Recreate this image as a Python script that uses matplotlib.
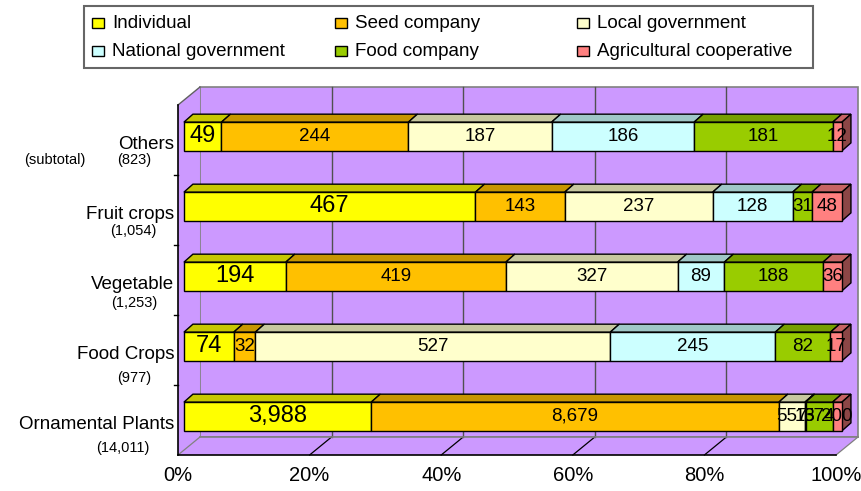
import numpy as np
import matplotlib.pyplot as plt
from matplotlib.patches import Polygon, Rectangle
from matplotlib.colors import to_rgb

# data (bottom to top, as drawn)
categories = ['Ornamental Plants', 'Food Crops', 'Vegetable', 'Fruit crops', 'Others']
subtotals = ['(14,011)', '(977)', '(1,253)', '(1,054)', '(823)']
series = ['Individual', 'Seed company', 'Local government',
          'National government', 'Food company', 'Agricultural cooperative']
colors = ['#FFFF00', '#FFC000', '#FFFFCC', '#CCFFFF', '#99CC00', '#FF8080']

individual = [3988, 74, 194, 467, 49]
seed_company = [8679, 32, 419, 143, 244]
local_gov = [557, 527, 327, 237, 187]
national_gov = [13, 245, 89, 128, 186]
food_company = [574, 82, 188, 31, 181]
agri_coop = [200, 17, 36, 48, 12]
xticks = [0, 20, 40, 60, 80, 100]

values = np.array([individual, seed_company, local_gov, national_gov, food_company, agri_coop], dtype=float)
shares = values / values.sum(axis=0) * 100

# 3d look
wall_dx, wall_dy = 3.34, 0.257     # depth of the box
bar_x0, bar_y0 = 0.9, 0.05         # front plane of the bars
bar_dx, bar_dy = 1.37, 0.114       # bar depth
bar_h = 0.41
wall = '#CC99FF'

def shade(c, f):
    r, g, b = to_rgb(c)
    return (r * f, g * f, b * f)

plt.rcParams['font.family'] = ['Liberation Sans', 'DejaVu Sans']

fig = plt.figure(figsize=(8.62, 4.91), dpi=100)
ax = fig.add_axes([0, 0, 1, 1])
ax.set_xlim(-27.05, 103.95)
ax.set_ylim(-1.0143, 6.0)
ax.axis('off')

bot, top = -0.5, len(categories) - 0.5

# back wall, floor, side wall
ax.add_patch(Rectangle((wall_dx, bot + wall_dy), 100, top - bot, facecolor=wall,
                       edgecolor='#808080', lw=1.2, zorder=1))
ax.add_patch(Polygon([(0, bot), (100, bot), (100 + wall_dx, bot + wall_dy), (wall_dx, bot + wall_dy)],
                     closed=True, facecolor=wall, edgecolor='none', zorder=1))
ax.add_patch(Polygon([(0, bot), (wall_dx, bot + wall_dy), (wall_dx, top + wall_dy), (0, top)],
                     closed=True, facecolor=wall, edgecolor='none', zorder=1))
for t in xticks[1:-1]:
    ax.plot([t + wall_dx, t + wall_dx], [bot + wall_dy, top + wall_dy], color='#505050', lw=1, zorder=2)
for t in xticks:
    c = '#808080' if t in (0, 100) else 'black'
    ax.plot([t, t + wall_dx], [bot, bot + wall_dy], color=c, lw=0.9, zorder=2)
ax.plot([wall_dx, 100 + wall_dx], [bot + wall_dy, bot + wall_dy], color='#808080', lw=1.2, zorder=2)
ax.plot([0, wall_dx], [top, top + wall_dy], color='#606060', lw=1, zorder=2)
ax.plot([0, 0], [bot, top], color='black', lw=1.2, zorder=6)
ax.plot([0, 100], [bot, bot], color='black', lw=1.2, zorder=6)
for k in range(1, len(categories)):
    ax.plot([-0.6, 0], [k - 0.5, k - 0.5], color='black', lw=1, zorder=6)

# bars
for i in range(len(categories)):
    yb = i + bar_y0 - bar_h / 2
    yt = yb + bar_h
    left = bar_x0
    for j in range(len(series)):
        w = shares[j, i]
        ax.add_patch(Rectangle((left, yb), w, bar_h, facecolor=colors[j],
                               edgecolor='black', lw=1, zorder=4))
        ax.add_patch(Polygon([(left, yt), (left + w, yt), (left + w + bar_dx, yt + bar_dy),
                              (left + bar_dx, yt + bar_dy)], closed=True,
                             facecolor=shade(colors[j], 0.78), edgecolor='black', lw=1, zorder=3))
        if j == len(series) - 1:
            ax.add_patch(Polygon([(left + w, yb), (left + w + bar_dx, yb + bar_dy),
                                  (left + w + bar_dx, yt + bar_dy), (left + w, yt)], closed=True,
                                 facecolor=shade(colors[j], 0.55), edgecolor='black', lw=1, zorder=3))
        size = 17 if j == 0 else 13.5
        ax.text(left + w / 2, i + bar_y0, f'{int(values[j, i]):,}', ha='center', va='center',
                fontsize=size, zorder=7)
        left += w

# category labels
sub_x = [-4.26, -4.1, -3.2, -3.2, -4.1]
sub_dy = [0.40, 0.40, 0.33, 0.30, 0.29]
for i, (name, sub) in enumerate(zip(categories, subtotals)):
    ax.text(-0.6, i - 0.06, name, ha='right', va='center', fontsize=13.5)
    ax.text(sub_x[i], i - sub_dy[i], sub, ha='right', va='center', fontsize=10.5)
ax.text(-18.7, len(categories) - 1 - sub_dy[-1], '(subtotal)', ha='center', va='center', fontsize=10.5)

for t in xticks:
    ax.text(t, -0.786, f'{t}%', ha='center', va='center', fontsize=14.5)

# legend box
W, H = 862, 491
fig.patches.append(Rectangle((84 / W, 1 - 68 / H), 729 / W, 62 / H, transform=fig.transFigure,
                             facecolor='white', edgecolor='#666666', lw=1.5))
col_x = [92, 335, 577]
row_y = [23, 51]
for j, name in enumerate(series):
    r, c = divmod(j, 3)
    fig.patches.append(Rectangle((col_x[c] / W, 1 - (row_y[r] + 5) / H), 12 / W, 10 / H,
                                 transform=fig.transFigure, facecolor=colors[j],
                                 edgecolor='black', lw=1))
    fig.text((col_x[c] + 20) / W, 1 - row_y[r] / H, name, ha='left', va='center', fontsize=13.5)

fig.savefig('out.png', dpi=100)
